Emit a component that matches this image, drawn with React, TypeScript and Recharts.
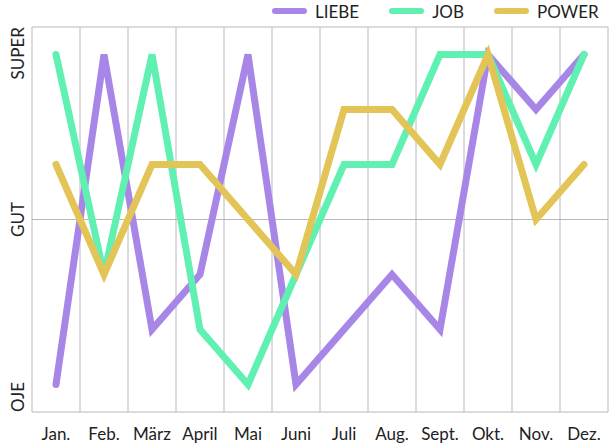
import { LineChart, Line, XAxis, YAxis, CartesianGrid } from 'recharts';

// Mood per month, 0 = OJE, 3 = GUT, 6 = SUPER
const months = ['Jan.', 'Feb.', 'März', 'April', 'Mai', 'Juni', 'Juli', 'Aug.', 'Sept.', 'Okt.', 'Nov.', 'Dez.'];
const liebe = [0, 6, 1, 2, 6, 0, 1, 2, 1, 6, 5, 6];
const job = [6, 2, 6, 1, 0, 2, 4, 4, 6, 6, 4, 6];
const power = [4, 2, 4, 4, 3, 2, 5, 5, 4, 6, 3, 4];

const yTicks = [-0.5, 3, 6.5];
const yLabels: Record<string, string> = { '-0.5': 'OJE', '3': 'GUT', '6.5': 'SUPER' };

const series = [
  { key: 'liebe', name: 'LIEBE', color: '#a886e8' },
  { key: 'job', name: 'JOB', color: '#60f0b2' },
  { key: 'power', name: 'POWER', color: '#e3c457' },
];

const data = months.map((m, i) => ({ month: m, liebe: liebe[i], job: job[i], power: power[i] }));

const FONT = 'Lato, sans-serif';
const GRID = '#b8b8bc';

function YTick({ y, payload }: any) {
  const v = payload.value;
  const anchor = v < 0 ? 'start' : v > 5 ? 'end' : 'middle';
  const bx = 24;
  return (
    <text
      x={bx}
      y={y}
      transform={`rotate(-90 ${bx} ${y})`}
      textAnchor={anchor}
      style={{ fontFamily: FONT, fontSize: 17 }}
      fill="#222"
    >
      {yLabels[String(v)]}
    </text>
  );
}

function XTick({ x, payload }: any) {
  return (
    <text x={x} y={440} textAnchor="middle" style={{ fontFamily: FONT, fontSize: 17 }} fill="#222">
      {payload.value}
    </text>
  );
}

// vertical grid lines sit on the month boundaries, not on the points
function bandLines({ offset }: any) {
  const step = offset.width / months.length;
  return Array.from({ length: months.length + 1 }, (_, i) => offset.left + i * step);
}

export default function App() {
  return (
    <div style={{ position: 'absolute', left: 0, top: 0, width: 616, height: 444, background: '#fff' }}>
      <LineChart width={616} height={444} data={data} margin={{ top: 27, right: 8, bottom: 0, left: 0 }}>
        <CartesianGrid stroke={GRID} verticalCoordinatesGenerator={bandLines} />
        <XAxis
          dataKey="month"
          padding={{ left: 24, right: 24 }}
          axisLine={false}
          tickLine={false}
          height={32}
          interval={0}
          tick={<XTick />}
        />
        <YAxis
          type="number"
          domain={[-0.5, 6.5]}
          ticks={yTicks}
          interval={0}
          width={32}
          axisLine={false}
          tickLine={false}
          tick={<YTick />}
        />
        {series.map((s) => (
          <Line
            key={s.key}
            type="linear"
            dataKey={s.key}
            name={s.name}
            stroke={s.color}
            strokeWidth={7}
            strokeLinecap="round"
            dot={false}
            activeDot={false}
            isAnimationActive={false}
          />
        ))}
      </LineChart>
      <div
        style={{
          position: 'absolute',
          top: 0,
          left: 272,
          height: 22,
          display: 'flex',
          alignItems: 'center',
          fontFamily: FONT,
          fontSize: 17,
          color: '#222',
        }}
      >
        {series.map((s, i) => (
          <div key={s.key} style={{ display: 'flex', alignItems: 'center', marginLeft: i === 0 ? 0 : 30 }}>
            <span style={{ display: 'inline-block', width: 35, height: 6, borderRadius: 3, background: s.color, marginRight: 8 }} />
            <span>{s.name}</span>
          </div>
        ))}
      </div>
    </div>
  );
}
